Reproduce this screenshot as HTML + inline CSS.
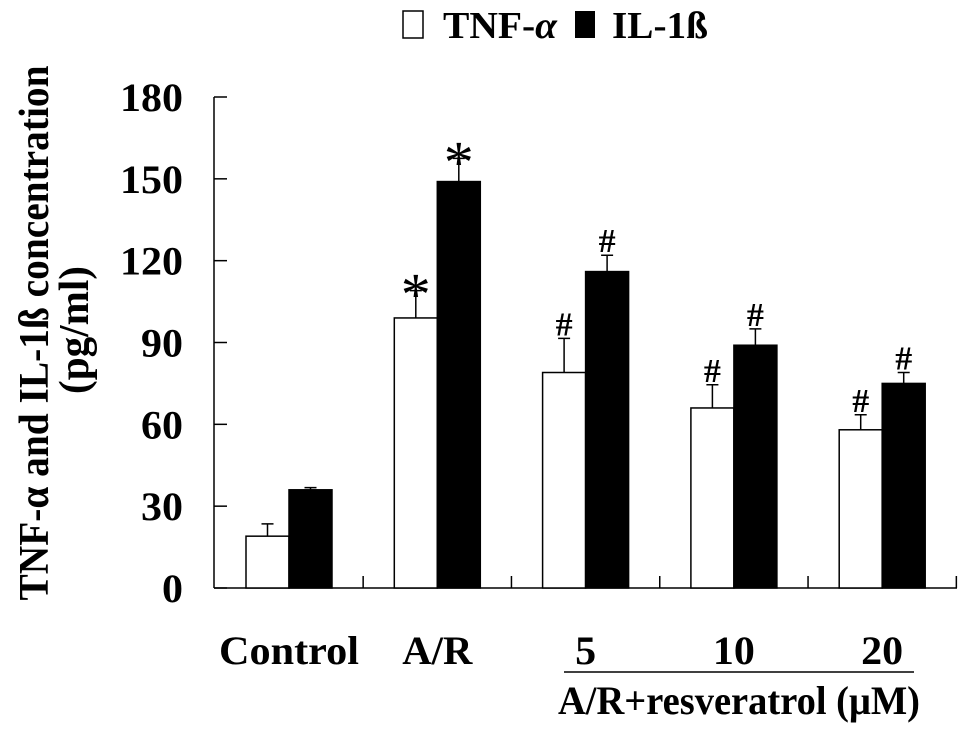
<!DOCTYPE html>
<html><head><meta charset="utf-8"><style>
html,body{margin:0;padding:0;background:#fff;}
svg{display:block;}
text{font-family:"Liberation Serif",serif;font-weight:bold;fill:#000;}
</style></head><body>
<svg id="chart" width="969" height="729" viewBox="0 0 969 729" xmlns="http://www.w3.org/2000/svg">
<g>
 <rect x="403" y="11" width="20" height="27" fill="#fff" stroke="#000" stroke-width="1.5"/>
 <text x="443" y="38" font-size="38" textLength="114" lengthAdjust="spacingAndGlyphs">TNF-<tspan font-style="italic">α</tspan></text>
 <rect x="575" y="11" width="20" height="27" fill="#000"/>
 <text x="612" y="38" font-size="38" textLength="96" lengthAdjust="spacingAndGlyphs">IL-1ß</text>
</g>
<text transform="translate(48,333) rotate(-90)" text-anchor="middle" font-size="42" textLength="535" lengthAdjust="spacingAndGlyphs">TNF-α and IL-1ß concentration</text>
<text transform="translate(88,330) rotate(-90)" text-anchor="middle" font-size="42" textLength="128" lengthAdjust="spacingAndGlyphs">(pg/ml)</text>
<g id="axes"></g>
<g id="bars"></g>
<line x1="564" y1="672" x2="914" y2="672" stroke="#000" stroke-width="1.5"/>
<text x="739" y="714" text-anchor="middle" font-size="40" textLength="362" lengthAdjust="spacingAndGlyphs">A/R+resveratrol (μM)</text>
</svg>
<script>
const categories = ["Control","A/R","5","10","20"];
const tnfValues = [19, 99, 79, 66, 58];
const tnfErrors = [4.5, 10, 12.5, 8.5, 5.5];
const ilValues = [36, 149, 116, 89, 75];
const ilErrors = [0.8, 8.5, 6, 6, 4];
const tnfMarks = ["", "*", "#", "#", "#"];
const ilMarks = ["", "*", "#", "#", "#"];
const yTicks = [0, 30, 60, 90, 120, 150, 180];

const NS = "http://www.w3.org/2000/svg";
const x0 = 214, xEnd = 957, yBase = 588, yTop = 97, yMax = 180;
const pitch = 148.3, firstCenter = 289, barW = 43;
function yScale(v){ return yBase - v/yMax*(yBase-yTop); }
function xCenter(i){ return firstCenter + i*pitch; }
function mk(tag, attrs, parent){ const e=document.createElementNS(NS,tag); for(const k in attrs) e.setAttribute(k,attrs[k]); parent.appendChild(e); return e; }

const axes = document.getElementById('axes');
const bars = document.getElementById('bars');
let l = mk('line',{x1:x0,y1:yTop,x2:x0,y2:yBase,stroke:'#000','stroke-width':1.5},axes);


l = mk('line',{x1:x0,y1:yBase,x2:xEnd,y2:yBase,stroke:'#000','stroke-width':1.5},axes);


yTicks.forEach(t=>{
  const y=yScale(t);
  const tk=mk('line',{x1:x0,y1:y,x2:x0+13,y2:y,stroke:'#000','stroke-width':1.5},axes);
  
  
  const s=String(t);
  const tx=mk('text',{x:183,y:y+14,'text-anchor':'end','font-size':40,textLength:s.length*21,lengthAdjust:'spacingAndGlyphs'},axes);
  tx.textContent=s;
  
  
});
const labelWidths = {"Control":140,"A/R":70};
categories.forEach((c,i)=>{
  const cx=xCenter(i);
  const sep=mk('line',{x1:cx+pitch/2,y1:yBase,x2:cx+pitch/2,y2:yBase-12,stroke:'#000','stroke-width':1.5},axes);
  
  
  const w=labelWidths[c]||c.length*21;
  const lab=mk('text',{x:cx,y:664,'text-anchor':'middle','font-size':40,textLength:w,lengthAdjust:'spacingAndGlyphs'},axes);
  lab.textContent=c;
  
  
  [[tnfValues,tnfErrors,tnfMarks,'#fff',cx-barW,'tnf'],[ilValues,ilErrors,ilMarks,'#000',cx,'il']].forEach(s=>{
    const v=s[0][i], e=s[1][i], bx=s[4], mx=bx+barW/2;
    const r=mk('rect',{x:bx,y:yScale(v),width:barW,height:yBase-yScale(v),fill:s[3],stroke:'#000','stroke-width':1.5},bars);
    
    
    const ey=yScale(v+e);
    const el=mk('path',{d:`M${mx},${yScale(v)}V${ey}M${mx-6},${ey}H${mx+6}`,stroke:'#000','stroke-width':1.5,fill:'none'},bars);
    
    
    if(s[2][i]){
      const star=s[2][i]==='*';
      const m=mk('text',{x:mx,y:star?ey+24:ey-3,'text-anchor':'middle','font-size':star?60:34},bars);
      if(star) m.style.fontWeight='normal';
      m.textContent=s[2][i];
      
      
    }
  });
});
</script>
</body></html>
